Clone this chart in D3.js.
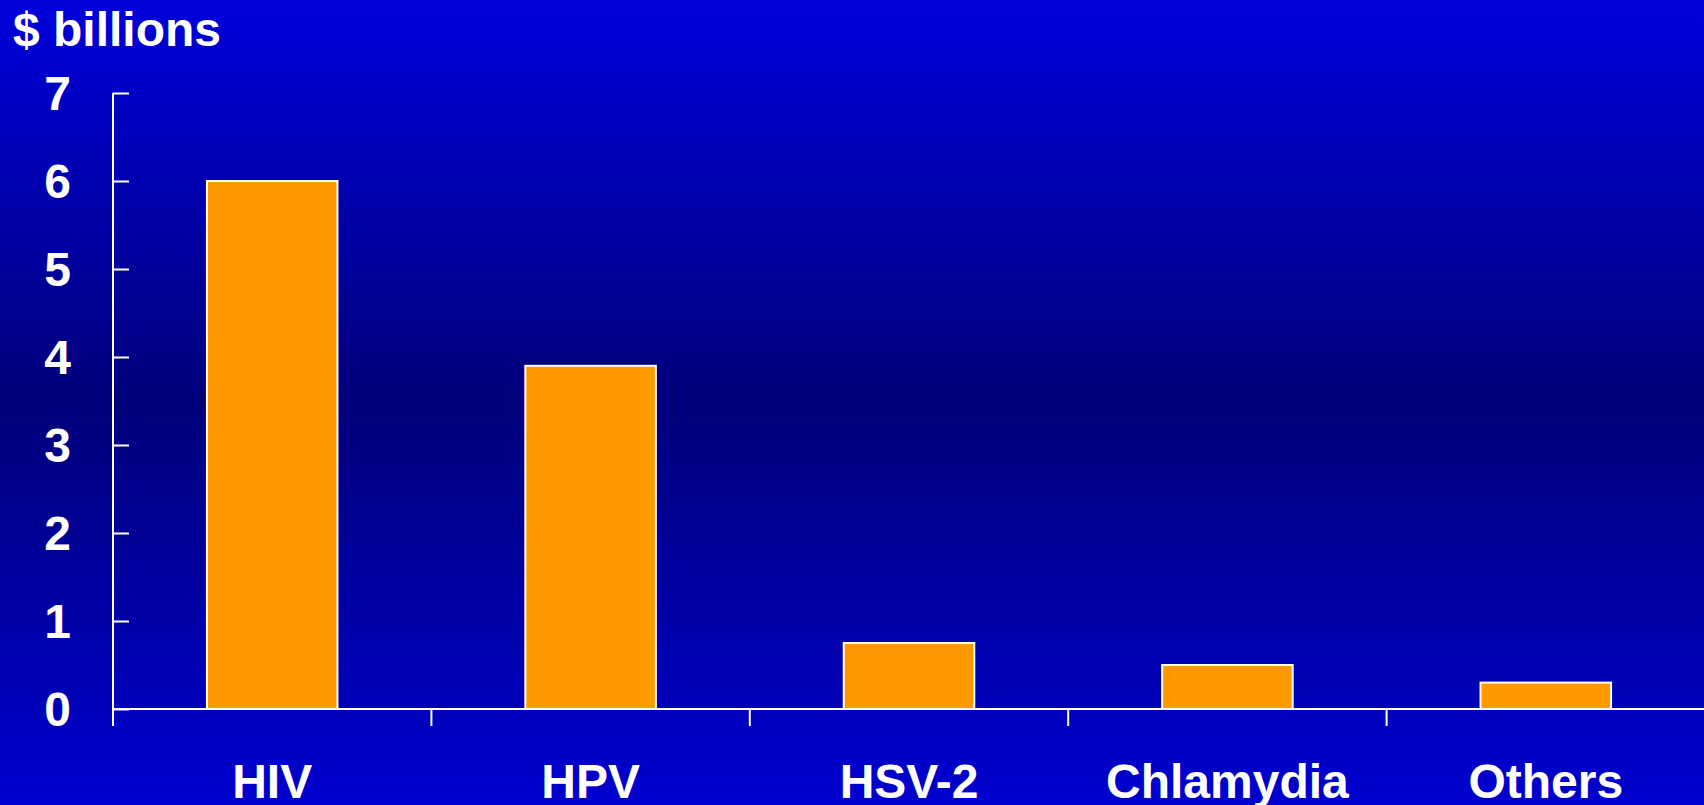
<!DOCTYPE html>
<html><head><meta charset="utf-8">
<script src="https://cdn.jsdelivr.net/npm/d3@7/dist/d3.min.js"></script>
<style>html,body{margin:0;padding:0;overflow:hidden;background:#0000cc}</style>
</head><body>
<script>
const categories = ["HIV", "HPV", "HSV-2", "Chlamydia", "Others"];
const values = [6.0, 3.9, 0.75, 0.5, 0.3];
const yTicks = [0, 1, 2, 3, 4, 5, 6, 7];
const yTitle = "$ billions";

const W = 1704, H = 805;
const svg = d3.select("body").append("svg").attr("width", W).attr("height", H);
const defs = svg.append("defs");
const grad = defs.append("linearGradient").attr("id", "bg").attr("x1", 0).attr("y1", 0).attr("x2", 0).attr("y2", 1);
grad.append("stop").attr("offset", "0%").attr("stop-color", "#0000dc");
grad.append("stop").attr("offset", "50%").attr("stop-color", "#00007a");
grad.append("stop").attr("offset", "100%").attr("stop-color", "#0000d0");
svg.append("rect").attr("width", W).attr("height", H).attr("fill", "url(#bg)");

const x0 = 113, x1 = 1705, y0 = 709, yTop = 93;
const x = d3.scaleBand().domain(categories).range([x0, x1]).paddingInner(0.59).paddingOuter(0.295);
const y = d3.scaleLinear().domain([0, 7]).range([y0, yTop]);
const font = "'Liberation Sans', Arial, Helvetica, sans-serif";
const fs = 48;

// bars
svg.append("g").selectAll("rect").data(values).join("rect")
  .attr("x", (d, i) => x(categories[i]))
  .attr("y", d => y(d))
  .attr("width", x.bandwidth())
  .attr("height", d => y(0) - y(d))
  .attr("fill", "#ff9900")
  .attr("stroke", "#ffffff")
  .attr("stroke-width", 2);

// y axis
const yAxis = d3.axisRight(y).tickValues(yTicks).tickSize(16).tickFormat("");
const gy = svg.append("g").attr("transform", `translate(${x0},0)`).call(yAxis);
gy.select(".domain").remove();
gy.selectAll(".tick line").attr("stroke", "#fff").attr("stroke-width", 2);
svg.append("line").attr("x1", x0).attr("x2", x0).attr("y1", yTop).attr("y2", y0 + 17)
  .attr("stroke", "#fff").attr("stroke-width", 2);

svg.append("g").selectAll("text").data(yTicks).join("text")
  .attr("x", 71).attr("y", d => y(d)).attr("dy", "0.36em")
  .attr("text-anchor", "end").attr("fill", "#fff")
  .attr("font-family", font).attr("font-weight", "bold").attr("font-size", fs)
  .text(d => d);

// x axis
svg.append("line").attr("x1", x0).attr("x2", W).attr("y1", y0).attr("y2", y0)
  .attr("stroke", "#fff").attr("stroke-width", 2);
svg.append("g").selectAll("line").data(categories.slice(1)).join("line")
  .attr("x1", c => x(c) - (x.step() - x.bandwidth()) / 2)
  .attr("x2", c => x(c) - (x.step() - x.bandwidth()) / 2)
  .attr("y1", y0).attr("y2", y0 + 17)
  .attr("stroke", "#fff").attr("stroke-width", 2);

svg.append("g").selectAll("text").data(categories).join("text")
  .attr("x", c => x(c) + x.bandwidth() / 2).attr("y", 798)
  .attr("text-anchor", "middle").attr("fill", "#fff")
  .attr("font-family", font).attr("font-weight", "bold").attr("font-size", fs)
  .text(c => c);

svg.append("text").attr("x", 13).attr("y", 46)
  .attr("fill", "#fff").attr("font-family", font).attr("font-weight", "bold").attr("font-size", fs)
  .text(yTitle);
</script>
</body></html>
